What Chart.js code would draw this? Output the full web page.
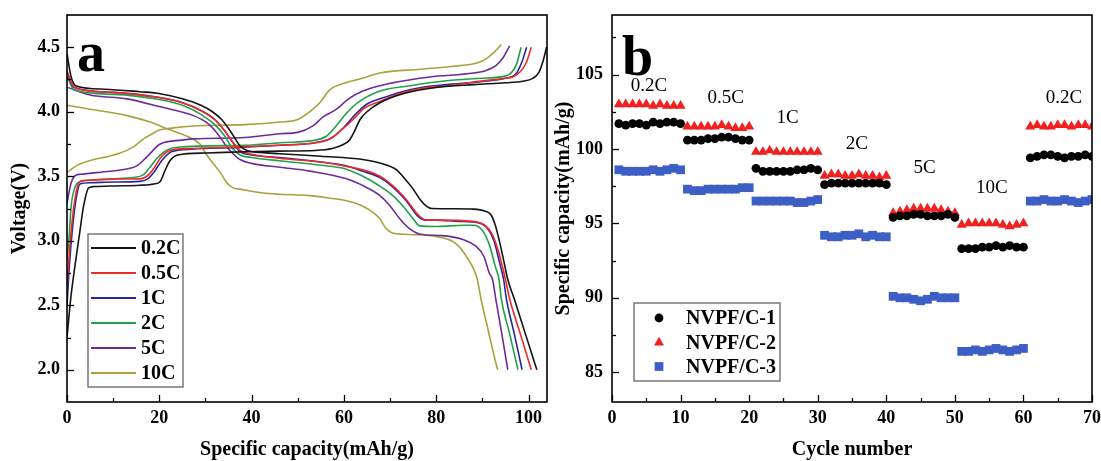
<!DOCTYPE html>
<html><head><meta charset="utf-8">
<script src="https://cdn.jsdelivr.net/npm/chart.js@4.4.0/dist/chart.umd.min.js"></script>
<style>
html,body{margin:0;padding:0;background:#fff;}
#wrap{position:relative;width:1101px;height:461px;overflow:hidden;background:#fff;}
#a{position:absolute;left:0;top:0;}
#b{position:absolute;left:550px;top:0;}
</style></head><body>
<div id="wrap"><canvas id="a" width="550" height="461"></canvas><canvas id="b" width="551" height="461"></canvas></div>
<script>
// ---------- Panel a data ----------
const rateLabels = ['0.2C','0.5C','1C','2C','5C','10C'];
const xTicksA = [0,20,40,60,80,100];
const yTicksA = [2.0,2.5,3.0,3.5,4.0,4.5];

const charge_02C = [[0,2.25],[0.8,2.55],[1.7,2.80],[2.7,3.05],[3.6,3.27],[4.7,3.41],[5.9,3.42],[10,3.425],[15.8,3.43],[18.8,3.44],[20.2,3.46],[21.3,3.55],[22.3,3.62],[24,3.665],[30,3.68],[38.6,3.69],[46,3.695],[53.8,3.70],[57.5,3.715],[59.5,3.74],[61.2,3.78],[62.3,3.85],[63.5,3.94],[65,4.00],[67.8,4.07],[72.8,4.14],[80.4,4.19],[88.1,4.21],[95,4.225],[98.5,4.235],[101,4.26],[102.3,4.31],[103.2,4.40],[103.9,4.5]];
const discharge_02C = [[0,4.45],[0.9,4.27],[2.0,4.2],[8.1,4.175],[15.8,4.155],[20.2,4.14],[25,4.10],[29,4.05],[31.5,4.0],[33.5,3.94],[35,3.87],[36.3,3.80],[37.5,3.735],[39,3.70],[42,3.685],[46.1,3.675],[55,3.655],[64.1,3.63],[68,3.60],[71.4,3.55],[73.2,3.48],[75,3.40],[76.5,3.32],[77.8,3.27],[79,3.25],[84,3.248],[88.1,3.245],[90.5,3.23],[91.9,3.20],[92.8,3.12],[93.8,2.98],[94.6,2.85],[95.5,2.70],[96.9,2.55],[99.3,2.28],[101.8,2.0]];

const charge_05C = [[0,2.65],[0.6,2.95],[1.3,3.21],[2.0,3.38],[2.8,3.46],[5.1,3.47],[10,3.478],[15.8,3.48],[17.3,3.50],[18.8,3.56],[20.2,3.64],[22.3,3.70],[27,3.715],[38.6,3.73],[46,3.74],[53.8,3.76],[57,3.79],[59.5,3.86],[62,3.94],[64.5,4.03],[67.8,4.08],[72,4.14],[76.6,4.18],[82.2,4.20],[88.1,4.23],[94.9,4.26],[96.6,4.27],[98.2,4.31],[99.5,4.38],[100.6,4.5]];
const discharge_05C = [[0,4.32],[1,4.22],[2,4.18],[10,4.15],[20,4.11],[25,4.07],[29,4.01],[32,3.94],[34,3.86],[35.8,3.77],[37.5,3.70],[40,3.67],[46,3.64],[55,3.61],[60,3.58],[64,3.55],[67.8,3.50],[70.5,3.43],[73.5,3.32],[76.4,3.19],[78,3.16],[80,3.16],[88,3.15],[90.5,3.12],[92,3.06],[93.2,2.95],[94.2,2.82],[95.0,2.70],[95.9,2.55],[98.2,2.28],[100.6,2.0]];

const charge_1C = [[0,2.5],[0.5,2.8],[1.2,3.1],[2.0,3.33],[2.8,3.44],[5,3.45],[10,3.455],[15.8,3.46],[17.5,3.48],[19,3.54],[20.5,3.62],[22.6,3.69],[27,3.71],[38.6,3.725],[46,3.74],[53.8,3.76],[57.5,3.80],[60,3.88],[62.5,3.98],[65,4.06],[67.8,4.10],[72,4.15],[77,4.19],[82.2,4.21],[90,4.235],[95,4.26],[97.2,4.29],[98.5,4.38],[99.6,4.5]];
const discharge_1C = [[0,4.30],[1.5,4.19],[10,4.15],[20,4.11],[25,4.07],[29,4.01],[32,3.94],[34,3.86],[35.8,3.77],[37.5,3.69],[40,3.665],[46,3.645],[55,3.61],[60,3.585],[64,3.54],[67.8,3.49],[70.5,3.42],[73.5,3.31],[76,3.19],[77.5,3.16],[80,3.16],[85,3.15],[89,3.14],[91,3.10],[92.5,3.0],[93.8,2.82],[94.6,2.70],[95.2,2.55],[96.9,2.28],[98.6,2.0]];

const charge_2C = [[0,2.85],[0.5,3.05],[0.9,3.27],[1.6,3.40],[2.4,3.45],[5.1,3.47],[10,3.48],[14.2,3.49],[16.5,3.51],[18,3.57],[19.5,3.64],[21.5,3.70],[24,3.725],[38.6,3.74],[46.1,3.76],[53.8,3.78],[56.2,3.81],[58.3,3.89],[60.6,3.99],[63,4.07],[67.8,4.16],[74,4.20],[82.2,4.24],[90,4.26],[95.2,4.28],[97.3,4.36],[98.4,4.5]];
const discharge_2C = [[0,4.28],[1.5,4.17],[10,4.135],[20,4.095],[25,4.05],[29,3.98],[32,3.90],[34,3.82],[35.8,3.72],[37.5,3.665],[40,3.645],[46,3.62],[55,3.585],[60,3.56],[64.1,3.50],[67.5,3.43],[70.6,3.35],[73,3.26],[75,3.17],[76.4,3.115],[80,3.11],[86,3.12],[88,3.12],[90,3.08],[91.5,2.97],[92.8,2.80],[93.6,2.70],[94.1,2.55],[95.9,2.28],[97.7,2.0]];

const charge_5C = [[0,3.29],[0.9,3.45],[2.0,3.51],[2.9,3.515],[8.1,3.535],[12,3.55],[15.1,3.58],[17.3,3.65],[20.2,3.75],[24.9,3.78],[27.4,3.79],[38.6,3.80],[46.1,3.83],[50,3.84],[53.3,3.89],[55.5,3.96],[58.4,4.02],[61,4.10],[64.1,4.16],[70,4.22],[78.6,4.27],[88.1,4.30],[90.8,4.32],[93.0,4.36],[94.5,4.42],[95.9,4.51]];
const discharge_5C = [[0,4.19],[5,4.13],[13,4.10],[20,4.04],[27.4,3.97],[30.5,3.91],[32.4,3.84],[34,3.76],[35.3,3.70],[37.5,3.63],[40,3.60],[46.1,3.57],[52.6,3.54],[60.6,3.48],[64.5,3.42],[67.8,3.35],[70,3.27],[72.1,3.17],[74,3.10],[76.6,3.05],[81.2,3.04],[85.8,3.01],[88.5,2.96],[90.3,2.88],[91.5,2.75],[92.2,2.70],[92.9,2.55],[94.2,2.28],[95.5,2.0]];

const charge_10C = [[0,3.53],[2.5,3.59],[5.8,3.63],[8.5,3.65],[11.5,3.68],[14.5,3.73],[16.6,3.79],[18.5,3.83],[20.2,3.86],[23,3.875],[27.4,3.89],[38.6,3.90],[46.1,3.92],[50,3.94],[53.3,4.02],[55,4.08],[56.9,4.17],[60,4.22],[64,4.26],[67.8,4.30],[76.6,4.33],[85.8,4.36],[89,4.38],[90.8,4.41],[92.5,4.46],[94.1,4.52]];
const discharge_10C = [[0,4.05],[5,4.02],[13,3.97],[18,3.92],[22.3,3.86],[26,3.81],[28.8,3.75],[30,3.68],[31,3.63],[33.2,3.53],[34.6,3.45],[36,3.41],[37.5,3.40],[42.4,3.37],[46.1,3.36],[52.6,3.35],[57,3.33],[60.6,3.31],[64,3.27],[66.3,3.22],[67.8,3.17],[69,3.10],[70.5,3.06],[73,3.05],[80.4,3.03],[84.2,2.98],[86.5,2.88],[88.9,2.70],[89.7,2.55],[91.3,2.30],[92.6,2.10],[93.3,2.0]];

const chargeCurves = [charge_02C, charge_05C, charge_1C, charge_2C, charge_5C, charge_10C];
const dischargeCurves = [discharge_02C, discharge_05C, discharge_1C, discharge_2C, discharge_5C, discharge_10C];

// ---------- Panel b data ----------
const seriesNames = ['NVPF/C-1','NVPF/C-2','NVPF/C-3'];
const rateSteps = ['0.2C','0.5C','1C','2C','5C','10C','0.2C'];
const xTicksB = [0,10,20,30,40,50,60,70];
const yTicksB = [85,90,95,100,105];
const cycles = [1,2,3,4,5,6,7,8,9,10,11,12,13,14,15,16,17,18,19,20,21,22,23,24,25,26,27,28,29,30,31,32,33,34,35,36,37,38,39,40,41,42,43,44,45,46,47,48,49,50,51,52,53,54,55,56,57,58,59,60,61,62,63,64,65,66,67,68,69,70];
const capC1 = [101.7,101.6,101.7,101.7,101.6,101.8,101.7,101.8,101.8,101.7,
  100.6,100.6,100.6,100.7,100.7,100.8,100.8,100.7,100.6,100.6,
  98.7,98.5,98.5,98.5,98.5,98.5,98.6,98.6,98.7,98.6,
  97.6,97.7,97.7,97.7,97.7,97.7,97.7,97.7,97.7,97.6,
  95.4,95.5,95.5,95.6,95.6,95.5,95.5,95.5,95.6,95.4,
  93.3,93.3,93.3,93.4,93.4,93.5,93.4,93.5,93.4,93.4,
  99.4,99.5,99.6,99.6,99.5,99.4,99.5,99.5,99.6,99.5];
const capC2 = [103.0,103.0,103.0,103.0,103.0,102.9,103.0,102.9,102.9,102.9,
  101.5,101.5,101.5,101.5,101.5,101.6,101.5,101.4,101.4,101.5,
  99.8,99.8,99.9,99.8,99.8,99.8,99.8,99.8,99.8,99.8,
  98.2,98.3,98.3,98.2,98.2,98.3,98.2,98.2,98.1,98.2,
  95.7,95.8,95.9,96.0,96.0,96.0,96.0,95.9,95.8,95.7,
  94.9,95.0,95.0,95.0,95.0,95.0,94.9,94.8,94.9,95.0,
  101.5,101.6,101.5,101.5,101.6,101.6,101.5,101.6,101.6,101.5];
const capC3 = [98.6,98.5,98.5,98.5,98.5,98.6,98.5,98.6,98.7,98.6,
  97.3,97.2,97.2,97.3,97.3,97.3,97.3,97.3,97.4,97.4,
  96.5,96.5,96.5,96.5,96.5,96.5,96.4,96.4,96.5,96.6,
  94.2,94.1,94.1,94.2,94.2,94.3,94.1,94.2,94.1,94.1,
  90.1,90.0,90.0,89.9,89.8,89.9,90.1,90.0,90.0,90.0,
  86.4,86.4,86.5,86.4,86.5,86.6,86.5,86.4,86.5,86.6,
  96.5,96.5,96.6,96.5,96.5,96.6,96.5,96.4,96.5,96.6];

// ---------- styles ----------
const FONT = '"Liberation Serif", "Times New Roman", serif';
Chart.defaults.font.family = FONT;
Chart.defaults.color = '#000';
const rateColors = ['#141414','#ee2a2a','#25289c','#22a04a','#6c2c9c','#a9a23c'];
const seriesColors = ['#000000','#f2201e','#3d5ec4'];
const seriesShapes = ['circle','triangle','rect'];
const seriesRadius = [4.4,5.8,6.2];

const decor = {
  id: 'decor',
  afterDatasetsDraw(chart, args, o) {
    const ctx = chart.ctx;
    const {left, right, top, bottom} = chart.chartArea;
    const sx = chart.scales.x, sy = chart.scales.y;
    ctx.save();
    ctx.strokeStyle = '#000';
    ctx.lineWidth = 1.3;
    const seg = (x1,y1,x2,y2) => { ctx.beginPath(); ctx.moveTo(x1,y1); ctx.lineTo(x2,y2); ctx.stroke(); };
    o.xMajor.forEach(v => { const p = Math.round(sx.getPixelForValue(v)) + 0.5; seg(p, bottom, p, bottom - 7); });
    o.xMinor.forEach(v => { const p = Math.round(sx.getPixelForValue(v)) + 0.5; seg(p, bottom, p, bottom - 4); });
    o.yMajor.forEach(v => { const p = Math.round(sy.getPixelForValue(v)) + 0.5; seg(left, p, left + 7, p); });
    o.yMinor.forEach(v => { const p = Math.round(sy.getPixelForValue(v)) + 0.5; seg(left, p, left + 4, p); });
    ctx.lineWidth = 1.6;
    ctx.strokeRect(left, top, right - left, bottom - top);
    // panel letter
    ctx.fillStyle = '#000';
    ctx.textAlign = 'left';
    ctx.textBaseline = 'alphabetic';
    ctx.font = 'bold 56px ' + FONT;
    ctx.fillText(o.letter, o.letterX, o.letterY);
    // rate notes
    if (o.notes) {
      ctx.font = '19px ' + FONT;
      ctx.textAlign = 'center';
      ctx.textBaseline = 'middle';
      o.notes.forEach((t, i) => ctx.fillText(t, sx.getPixelForValue(o.noteX[i]), sy.getPixelForValue(o.noteY[i])));
    }
    // legend
    const L = o.legend;
    ctx.strokeStyle = '#707070';
    ctx.lineWidth = 1.4;
    ctx.strokeRect(L.box[0], L.box[1], L.box[2] - L.box[0], L.box[3] - L.box[1]);
    ctx.font = 'bold 20px ' + FONT;
    ctx.textAlign = 'left';
    ctx.textBaseline = 'middle';
    const items = chart.data.datasets.filter(d => d.inLegend);
    items.forEach((d, i) => {
      const y = L.rows[i];
      ctx.fillStyle = d.borderColor; ctx.strokeStyle = d.borderColor;
      if (L.type === 'line') {
        ctx.lineWidth = 2;
        seg(L.lineX[0], y, L.lineX[1], y);
      } else {
        const x = L.markX, r = d.pointRadius;
        ctx.beginPath();
        if (d.pointStyle === 'circle') { ctx.arc(x, y, r, 0, Math.PI * 2); }
        else if (d.pointStyle === 'triangle') { ctx.moveTo(x, y - r); ctx.lineTo(x + r * 0.866, y + r * 0.5); ctx.lineTo(x - r * 0.866, y + r * 0.5); ctx.closePath(); }
        else { const s = r * Math.SQRT1_2; ctx.rect(x - s, y - s, 2 * s, 2 * s); }
        ctx.fill();
      }
      ctx.fillStyle = '#000';
      ctx.fillText(d.label, L.textX, y + 1);
    });
    ctx.restore();
  }
};

const toPts = arr => arr.map(p => ({x: p[0], y: p[1]}));
const fixTicks = arr => (s => { s.ticks = arr.map(v => ({value: v})); });
const tickFont = {size: 18, weight: 'bold'};
const titleFont = {size: 20, weight: 'bold', lineHeight: 1.0};

// ---------- Chart a ----------
const dsA = [];
rateLabels.forEach((lab, i) => {
  dsA.push({label: lab, inLegend: true, data: toPts(chargeCurves[i]), borderColor: rateColors[i], backgroundColor: rateColors[i],
    showLine: true, pointRadius: 0, borderWidth: 1.6, cubicInterpolationMode: 'monotone'});
  dsA.push({label: lab + ' discharge', inLegend: false, data: toPts(dischargeCurves[i]), borderColor: rateColors[i], backgroundColor: rateColors[i],
    showLine: true, pointRadius: 0, borderWidth: 1.6, cubicInterpolationMode: 'monotone'});
});

new Chart(document.getElementById('a'), {
  type: 'scatter',
  data: {datasets: dsA},
  options: {
    responsive: false, animation: false, devicePixelRatio: 1,
    layout: {padding: {left: 0, right: 3, top: 15, bottom: 0}},
    plugins: {
      legend: {display: false}, tooltip: {enabled: false},
      decor: {
        xMajor: xTicksA, xMinor: [10,30,50,70,90], yMajor: yTicksA, yMinor: [2.25,2.75,3.25,3.75,4.25],
        letter: 'a', letterX: 77, letterY: 71,
        legend: {type: 'line', box: [88, 234, 183, 387], rows: [248,273,298,323,348,373], lineX: [91,136], textX: 141}
      }
    },
    scales: {
      x: {type: 'linear', min: 0, max: 104, grid: {display: false, drawTicks: false}, border: {display: false},
        afterBuildTicks: fixTicks(xTicksA), afterFit: s => { s.height = 59; s.paddingLeft = 0; s.paddingRight = 0; },
        ticks: {padding: 6, color: '#000', font: tickFont, callback: v => String(v)},
        title: {display: true, text: 'Specific capacity(mAh/g)', color: '#000', font: titleFont, padding: {top: 0, bottom: 1}}},
      y: {type: 'linear', min: 1.75, max: 4.75, grid: {display: false, drawTicks: false}, border: {display: false},
        afterBuildTicks: fixTicks(yTicksA), afterFit: s => { s.width = 67; s.paddingTop = 0; s.paddingBottom = 0; },
        ticks: {padding: 7, color: '#000', font: tickFont, callback: v => Number(v).toFixed(1)},
        title: {display: true, text: 'Voltage(V)', color: '#000', font: titleFont, padding: {top: 10, bottom: 0}}}
    }
  },
  plugins: [decor]
});

// ---------- Chart b ----------
const capSeries = [capC1, capC2, capC3];
const dsB = seriesNames.map((name, k) => ({
  label: name, inLegend: true,
  data: cycles.map((c, i) => ({x: c, y: capSeries[k][i]})),
  pointStyle: seriesShapes[k], pointRadius: seriesRadius[k], pointBorderWidth: 0, borderWidth: 0,
  backgroundColor: seriesColors[k], borderColor: seriesColors[k], showLine: false
}));

new Chart(document.getElementById('b'), {
  type: 'scatter',
  data: {datasets: dsB},
  options: {
    responsive: false, animation: false, devicePixelRatio: 1,
    layout: {padding: {left: 0, right: 9, top: 15, bottom: 0}},
    plugins: {
      legend: {display: false}, tooltip: {enabled: false},
      decor: {
        xMajor: xTicksB, xMinor: [5,15,25,35,45,55,65], yMajor: yTicksB, yMinor: [87.5,92.5,97.5,102.5,107.5],
        letter: 'b', letterX: 72, letterY: 75,
        notes: rateSteps, noteX: [5.4,16.6,25.6,35.7,45.6,55.4,65.9], noteY: [104.2,103.4,102.05,100.3,98.7,97.35,103.45],
        legend: {type: 'marker', box: [84, 303, 230, 381], rows: [318,342.5,366.5], markX: 109, textX: 136}
      }
    },
    scales: {
      x: {type: 'linear', min: 0, max: 70, grid: {display: false, drawTicks: false}, border: {display: false},
        afterBuildTicks: fixTicks(xTicksB), afterFit: s => { s.height = 59; s.paddingLeft = 0; s.paddingRight = 0; },
        ticks: {padding: 6, color: '#000', font: tickFont, callback: v => String(v)},
        title: {display: true, text: 'Cycle number', color: '#000', font: titleFont, padding: {top: 0, bottom: 1}}},
      y: {type: 'linear', min: 83, max: 109, grid: {display: false, drawTicks: false}, border: {display: false},
        afterBuildTicks: fixTicks(yTicksB), afterFit: s => { s.width = 62; s.paddingTop = 0; s.paddingBottom = 0; },
        ticks: {padding: 9, color: '#000', font: tickFont, callback: v => String(v)},
        title: {display: true, text: 'Specific capacity(mAh/g)', color: '#000', font: titleFont, padding: {top: 4, bottom: 0}}}
    }
  },
  plugins: [decor]
});
</script>
</body></html>
